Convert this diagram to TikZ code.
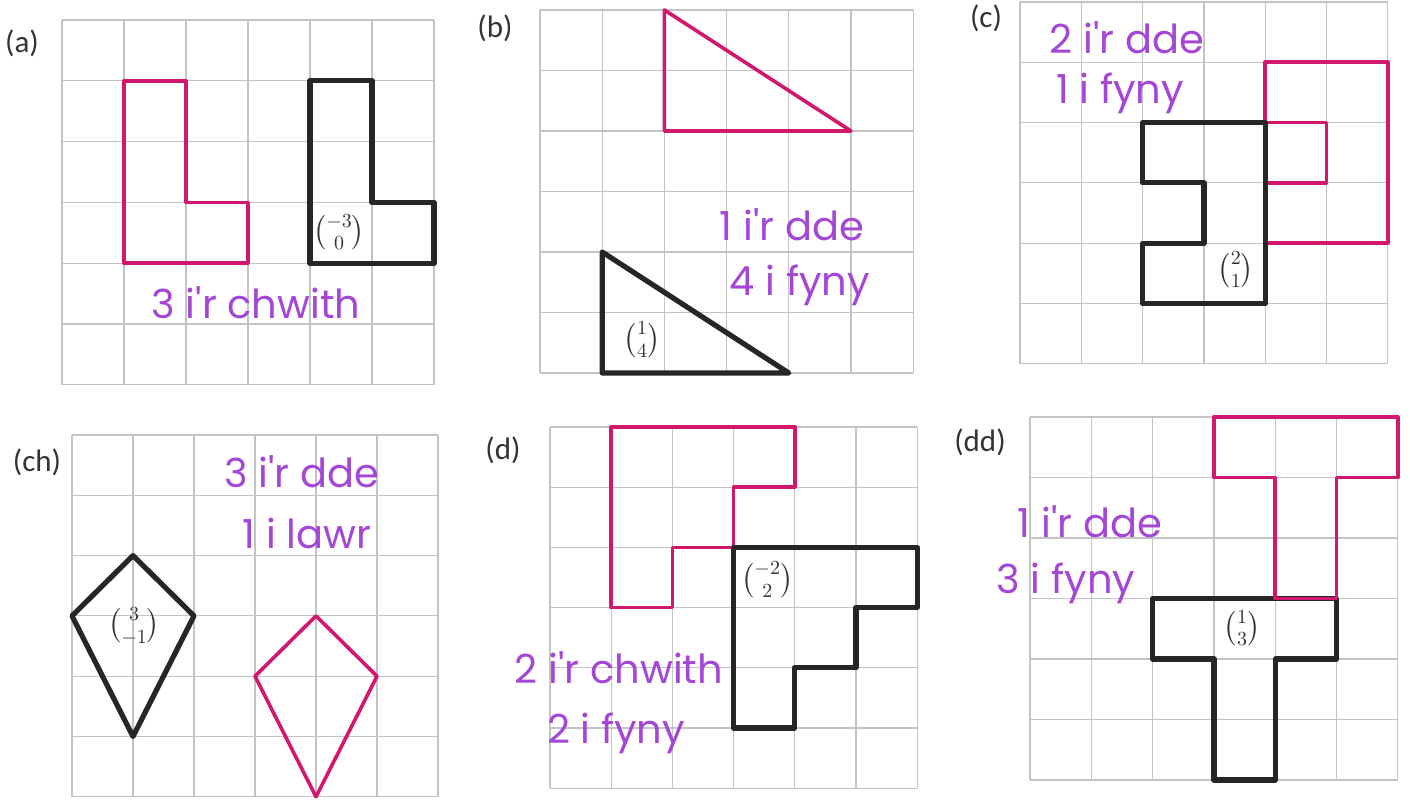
\documentclass[tikz,border=0pt]{standalone}
\usepackage{amsmath}
\usepackage{fontspec}
\setmainfont{Carlito}
\newfontfamily\handfont{Poppins}
\definecolor{gridgray}{HTML}{C4C4C4}
\definecolor{pinkline}{HTML}{D2186E}
\definecolor{blackline}{HTML}{262626}
\definecolor{purpletext}{HTML}{A446D6}
\definecolor{labelgray}{HTML}{333333}
\begin{document}
\begin{tikzpicture}[x=0.5pt,y=-0.5pt,
  panel/.style n args={4}{shift={(#1,#2)},x=#3,y=#4},
  gridline/.style={draw=gridgray,line width=0.6pt},
  blk/.style={draw=blackline,line width=2.6pt,line join=round,line cap=round},
  pnk/.style={draw=pinkline,line width=1.8pt,line join=round,line cap=round},
  hand/.style={text=purpletext,font=\handfont\fontsize{20}{24}\selectfont,inner sep=0pt},
  plabel/.style={text=labelgray,font=\fontsize{15.5}{18}\selectfont,inner sep=0pt},
  vec/.style={text=labelgray,font=\fontsize{14.5}{17}\selectfont,inner sep=0pt}]
\useasboundingbox[fill=white] (0,0) rectangle (1410,801);
\newcommand\sixgrid{\foreach \i in {0,...,6}{\draw[gridline] (\i,0) -- (\i,6); \draw[gridline] (0,\i) -- (6,\i);}}

% ---------- (a)
\node[plabel] (la) at (22,43) {(a)};
\begin{scope}[panel={62}{20}{31pt}{-30.4pt}]
  \sixgrid
  \draw[pnk] (1,1) -- (2,1) -- (2,3) -- (3,3) -- (3,4) -- (1,4) -- cycle;
  \draw[blk] (4,1) -- (5,1) -- (5,3) -- (6,3) -- (6,4) -- (4,4) -- cycle;
  \node[vec] (va) at (4.47,3.49) {$\binom{-3}{0}$};
\end{scope}
\node[hand] (ha) at (256,303) {3 i'r chwith};

% ---------- (b)
\node[plabel] (lb) at (495,28) {(b)};
\begin{scope}[panel={540}{10}{31.1pt}{-30.25pt}]
  \sixgrid
  \draw[pnk] (2,0) -- (2,2) -- (5,2) -- cycle;
  \draw[blk] (1,4) -- (1,6) -- (4,6) -- cycle;
  \node[vec] (vb) at (1.64,5.45) {$\binom{1}{4}$};
\end{scope}
\node[hand] (hb1) at (792,225) {1 i'r dde};
\node[hand] (hb2) at (800,285) {4 i fyny};

% ---------- (c)
\node[plabel] (lc) at (986,18) {(c)};
\begin{scope}[panel={1020}{2}{30.65pt}{-30.15pt}]
  \sixgrid
  \draw[pnk] (4,1) -- (6,1) -- (6,4) -- (4,4) -- (4,3) -- (5,3) -- (5,2) -- (4,2) -- cycle;
  \draw[blk] (2,2) -- (4,2) -- (4,5) -- (2,5) -- (2,4) -- (3,4) -- (3,3) -- (2,3) -- cycle;
  \node[vec] (vc) at (3.52,4.44) {$\binom{2}{1}$};
\end{scope}
\node[hand] (hc1) at (1127,38) {2 i'r dde};
\node[hand] (hc2) at (1120,93) {1 i fyny};

% ---------- (ch)
\node[plabel] (lch) at (37,462) {(ch)};
\begin{scope}[panel={72}{435}{30.5pt}{-30.15pt}]
  \sixgrid
  \draw[blk] (1,2) -- (2,3) -- (1,5) -- (0,3) -- cycle;
  \draw[pnk] (4,3) -- (5,4) -- (4,6) -- (3,4) -- cycle;
  \node[vec] (vch) at (1.02,3.17) {$\binom{3}{-1}$};
\end{scope}
\node[hand] (hch1) at (302,472) {3 i'r dde};
\node[hand] (hch2) at (307,533) {1 i lawr};

% ---------- (d)
\node[plabel] (ld) at (503,450) {(d)};
\begin{scope}[panel={550}{427}{30.6pt}{-30.1pt}]
  \sixgrid
  \draw[pnk] (1,0) -- (4,0) -- (4,1) -- (3,1) -- (3,2) -- (2,2) -- (2,3) -- (1,3) -- cycle;
  \draw[blk] (3,2) -- (6,2) -- (6,3) -- (5,3) -- (5,4) -- (4,4) -- (4,5) -- (3,5) -- cycle;
  \node[vec] (vd) at (3.55,2.54) {$\binom{-2}{2}$};
\end{scope}
\node[hand] (hd1) at (619,668) {2 i'r chwith};
\node[hand] (hd2) at (616,733) {2 i fyny};

% ---------- (dd)
\node[plabel] (ldd) at (980,442) {(dd)};
\begin{scope}[panel={1030}{417}{30.65pt}{-30.25pt}]
  \sixgrid
  \draw[blk] (2,3) -- (5,3) -- (5,4) -- (4,4) -- (4,6) -- (3,6) -- (3,4) -- (2,4) -- cycle;
  \draw[pnk] (3,0) -- (6,0) -- (6,1) -- (5,1) -- (5,3) -- (4,3) -- (4,1) -- (3,1) -- cycle;
  \node[vec] (vdd) at (3.46,3.49) {$\binom{1}{3}$};
\end{scope}
\node[hand] (hdd1) at (1090,522) {1 i'r dde};
\node[hand] (hdd2) at (1066,583) {3 i fyny};
\end{tikzpicture}
\end{document}
